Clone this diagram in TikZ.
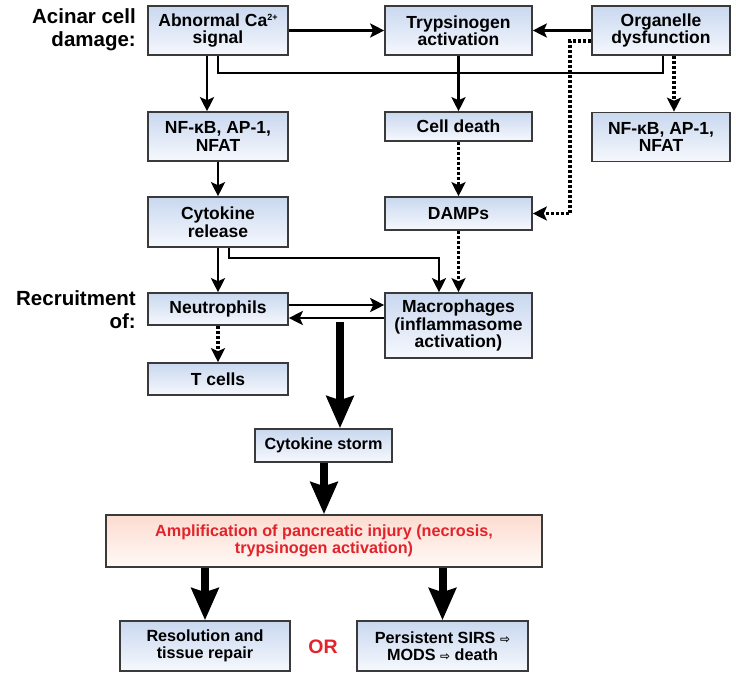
\documentclass[tikz,border=0pt]{standalone}
\usepackage{fontspec}
\setmainfont{Liberation Sans}
\newfontfamily\dv{DejaVu Sans}
\usetikzlibrary{arrows.meta}
\definecolor{bord}{HTML}{3A3A3A}
\definecolor{btop}{HTML}{C9D8EF}
\definecolor{bbot}{HTML}{F6F8FD}
\definecolor{rtop}{HTML}{FCDCD0}
\definecolor{rbot}{HTML}{FFF9F6}
\definecolor{redtxt}{HTML}{E3232B}
\newcommand{\wra}{{\dv\fontsize{12}{12}\selectfont ⇨}}
\newcommand{\caplus}{\raisebox{6pt}{\fontsize{9}{9}\selectfont 2+}}
\begin{document}
\begin{tikzpicture}[x=1pt,y=-1pt,
  box/.style={draw=bord, line width=1.6pt, top color=btop, bottom color=bbot,
    align=center, inner sep=2pt, font=\fontsize{17.5}{17.5}\selectfont\bfseries},
  boxs/.style={box, font=\fontsize{16.2}{17.5}\selectfont\bfseries},
  lbl/.style={align=right, inner sep=0pt, anchor=north east,
    font=\fontsize{20.5}{23}\selectfont\bfseries},
  ln/.style={line width=2.8pt},
  arr/.style={line width=2.8pt, -{Stealth[length=14pt,width=14pt,inset=3pt]}},
  dotarr/.style={line width=3.2pt, dash pattern=on 3pt off 2pt,
    -{Stealth[length=14pt,width=14pt,inset=3pt]}},
  thickarr/.style={line width=8pt, -{Stealth[length=32pt,width=27pt,inset=4pt]}}
]
\useasboundingbox (0,0) rectangle (736,673);

% labels
\node[lbl] (l1) at (136,8) {Acinar cell\\damage:};
\node[lbl] (l2) at (136,290) {Recruitment\\of:};

% boxes
\node[box, minimum width=140pt, minimum height=49pt] (ca) at (218,30.5) {Abnormal Ca\caplus\\signal};
\node[box, minimum width=147pt, minimum height=49pt] (tryp) at (458.5,30.5) {Trypsinogen\\activation};
\node[box, minimum width=138pt, minimum height=49pt] (org) at (661,30.5) {Organelle\\dysfunction};
\node[box, minimum width=140pt, minimum height=49pt] (nfl) at (218,136.5) {NF-κB, AP-1,\\NFAT};
\node[box, minimum width=147pt, minimum height=29pt] (cd) at (458.5,126.5) {Cell death};
\node[box, minimum width=138pt, minimum height=49pt] (nfr) at (661,137) {NF-κB, AP-1,\\NFAT};
\node[box, minimum width=140pt, minimum height=50pt] (cr) at (218,222) {Cytokine\\release};
\node[box, minimum width=147pt, minimum height=33pt] (damps) at (458.5,213.5) {DAMPs};
\node[box, minimum width=140pt, minimum height=32pt] (neu) at (218,309) {Neutrophils};
\node[box, minimum width=147pt, minimum height=65pt] (mac) at (458.5,325.5) {Macrophages\\(inflammasome\\activation)};
\node[box, minimum width=140pt, minimum height=32pt] (tc) at (218,379) {T cells};
\node[boxs, minimum width=137pt, minimum height=33pt] (cs) at (323.5,445.5) {Cytokine storm};
\node[boxs, minimum width=436pt, minimum height=52pt, top color=rtop, bottom color=rbot,
  text=redtxt] (amp) at (324,541) {Amplification of pancreatic injury (necrosis,\\trypsinogen activation)};
\node[boxs, minimum width=170pt, minimum height=50pt] (res) at (205,646) {Resolution and\\tissue repair};
\node[boxs, minimum width=171pt, minimum height=50pt] (per) at (442.5,646) {Persistent SIRS \wra\\MODS \wra{} death};
\node[text=redtxt, font=\fontsize{19.5}{20}\selectfont\bfseries] (or) at (323,647) {OR};

% coordinates
\coordinate (j1) at (218,73);
\coordinate (j2) at (663,73);
\coordinate (o1) at (570,41);
\coordinate (c1) at (229,258);
\coordinate (c2) at (439,258);
\coordinate (n1) at (0,305);
\coordinate (n2) at (0,318);
\coordinate (t1) at (340,322);
\coordinate (ca207) at (207,0);
\coordinate (o674) at (674,0);

% connectors
\draw[arr] (ca.east) -- (tryp.west);
\draw[arr] (org.west) -- (tryp.east);
\draw[ln] (ca.south) -- (j1) -- (j2) -- (j2 |- org.south);
\draw[arr] (ca.south -| ca207) -- (nfl.north -| ca207);
\draw[arr] (tryp.south) -- (cd.north);
\draw[dotarr] (org.south -| o674) -- (nfr.north -| o674);
\draw[dotarr] (org.west |- o1) -- (o1) -- (o1 |- damps.east) -- (damps.east);
\draw[arr] (nfl.south) -- (cr.north);
\draw[dotarr] (cd.south) -- (damps.north);
\draw[dotarr] (damps.south) -- (mac.north);
\draw[arr] (cr.south) -- (neu.north);
\draw[arr] (cr.south -| c1) -- (c1) -- (c2) -- (c2 |- mac.north);
\draw[arr] (neu.east |- n1) -- (mac.west |- n1);
\draw[arr] (mac.west |- n2) -- (neu.east |- n2);
\draw[thickarr] (t1) -- (t1 |- cs.north);
\draw[dotarr] (neu.south) -- (tc.north);
\draw[thickarr] (cs.south -| amp.north) -- (amp.north);
\draw[thickarr] (amp.south -| res.north) -- (res.north);
\draw[thickarr] (amp.south -| per.north) -- (per.north);
\end{tikzpicture}
\end{document}
